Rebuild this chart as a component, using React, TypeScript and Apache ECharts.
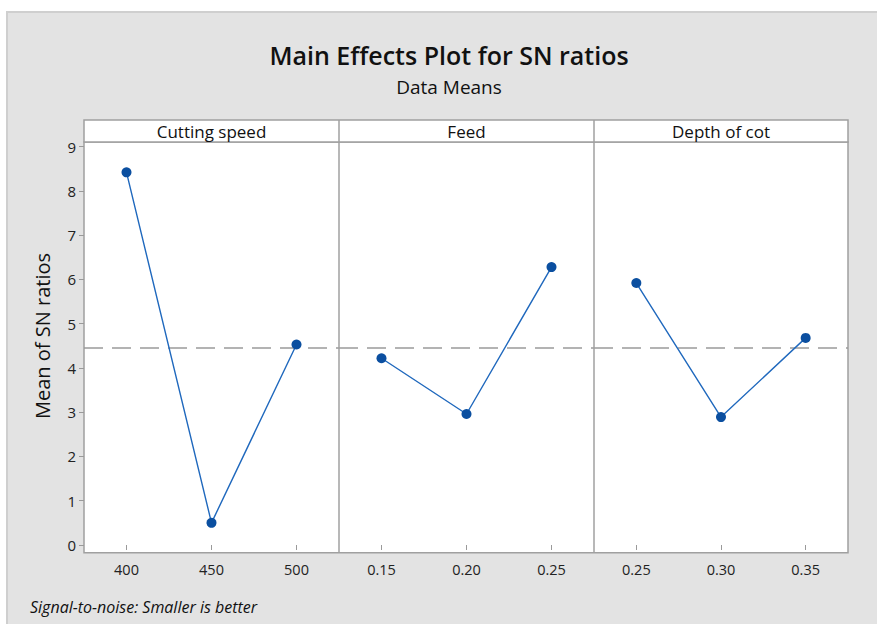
import React, { useEffect, useRef } from "react";
import * as echarts from "echarts";

const panelTitles = ["Cutting speed", "Feed", "Depth of cot"];
const cuttingSpeedLevels = ["400", "450", "500"];
const feedLevels = ["0.15", "0.20", "0.25"];
const depthLevels = ["0.25", "0.30", "0.35"];
const cuttingSpeedSN = [8.42, 0.5, 4.53];
const feedSN = [4.22, 2.96, 6.28];
const depthSN = [5.92, 2.89, 4.68];
const overallMean = 4.46;
const yTicks = [0, 9];

const FONT = "'Open Sans', 'Noto Sans', sans-serif";

export default function App() {
  const ref = useRef<HTMLDivElement>(null);
  useEffect(() => {
    if (!ref.current) return;
    const chart = echarts.init(ref.current, null, { renderer: "svg" });
    const levels = [cuttingSpeedLevels, feedLevels, depthLevels];
    const values = [cuttingSpeedSN, feedSN, depthSN];
    const panelX = [84, 339, 594, 848];
    const plotTop = 142;
    const plotBottom = 552.7;
    const y0 = 545;
    const y9 = 146.7;
    const grids = [0, 1, 2].map((i) => ({
      left: panelX[i],
      width: panelX[i + 1] - panelX[i],
      top: y9,
      height: y0 - y9,
    }));
    const xAxes = [0, 1, 2].map((i) => ({
      type: "category",
      gridIndex: i,
      data: levels[i],
      boundaryGap: true,
      offset: plotBottom - y0,
      axisLine: { show: false },
      axisTick: { show: true, alignWithLabel: true, length: 5, lineStyle: { color: "#9a9a9a" } },
      axisLabel: { color: "#222", fontSize: 14.5, fontFamily: FONT, margin: 9 },
      splitLine: { show: false },
    }));
    const yAxes = [0, 1, 2].map((i) => ({
      type: "value",
      gridIndex: i,
      min: yTicks[0],
      max: yTicks[1],
      interval: 1,
      axisLine: { show: false },
      axisTick: { show: i === 0, length: 5, lineStyle: { color: "#9a9a9a" } },
      axisLabel: { show: i === 0, color: "#222", fontSize: 15, fontFamily: FONT, margin: 8 },
      splitLine: { show: false },
    }));
    const series = [0, 1, 2].map((i) => ({
      type: "line",
      xAxisIndex: i,
      yAxisIndex: i,
      data: values[i],
      symbol: "circle",
      symbolSize: 10,
      lineStyle: { color: "#1f68bd", width: 1.4 },
      itemStyle: { color: "#0b4fa0" },
      z: 5,
      markLine: {
        silent: true,
        symbol: "none",
        label: { show: false },
        lineStyle: { color: "#9a9a9a", type: [19, 9], width: 1.5 },
        data: [{ yAxis: overallMean }],
      },
    }));
    chart.setOption({
      animation: false,
      backgroundColor: "#ffffff",
      grid: grids,
      xAxis: xAxes,
      yAxis: yAxes,
      series,
      graphic: [
        {
          type: "rect",
          z: -20,
          shape: { x: 7, y: 12, width: 875, height: 620 },
          style: { fill: "#e3e3e3", stroke: "#cfcfcf", lineWidth: 2 },
        },
        {
          type: "rect",
          z: -10,
          shape: { x: panelX[0], y: plotTop, width: panelX[3] - panelX[0], height: plotBottom - plotTop },
          style: { fill: "#ffffff", stroke: "#a0a0a0", lineWidth: 1.5 },
        },
        {
          type: "rect",
          z: -10,
          shape: { x: panelX[0], y: 120, width: panelX[3] - panelX[0], height: plotTop - 120 },
          style: { fill: "#ffffff", stroke: "#a0a0a0", lineWidth: 1.5 },
        },
        ...[1, 2].map((k) => ({
          type: "line",
          z: 10,
          shape: { x1: panelX[k], y1: 120, x2: panelX[k], y2: plotBottom },
          style: { stroke: "#a0a0a0", lineWidth: 1.5 },
        })),
        ...panelTitles.map((t, i) => ({
          type: "text",
          z: 10,
          x: (panelX[i] + panelX[i + 1]) / 2,
          y: 131,
          style: {
            text: t,
            fill: "#111",
            fontSize: 17,
            fontFamily: FONT,
            textAlign: "center",
            textVerticalAlign: "middle",
          },
        })),
        {
          type: "text",
          x: 449,
          y: 55,
          style: {
            text: "Main Effects Plot for SN ratios",
            fill: "#111",
            fontSize: 25,
            fontWeight: 600,
            fontFamily: FONT,
            textAlign: "center",
            textVerticalAlign: "middle",
          },
        },
        {
          type: "text",
          x: 449,
          y: 87,
          style: {
            text: "Data Means",
            fill: "#111",
            fontSize: 19,
            fontFamily: FONT,
            textAlign: "center",
            textVerticalAlign: "middle",
          },
        },
        {
          type: "text",
          x: 42,
          y: 336,
          rotation: Math.PI / 2,
          style: {
            text: "Mean of SN ratios",
            fill: "#111",
            fontSize: 20,
            fontFamily: FONT,
            textAlign: "center",
            textVerticalAlign: "middle",
          },
        },
        {
          type: "text",
          x: 30,
          y: 607,
          style: {
            text: "Signal-to-noise: Smaller is better",
            fill: "#111",
            fontSize: 16,
            fontStyle: "italic",
            fontFamily: FONT,
            textAlign: "left",
            textVerticalAlign: "middle",
          },
        },
      ],
    });
    return () => chart.dispose();
  }, []);
  return (
    <div
      ref={ref}
      style={{ position: "absolute", left: 0, top: 0, width: 877, height: 624 }}
    />
  );
}
